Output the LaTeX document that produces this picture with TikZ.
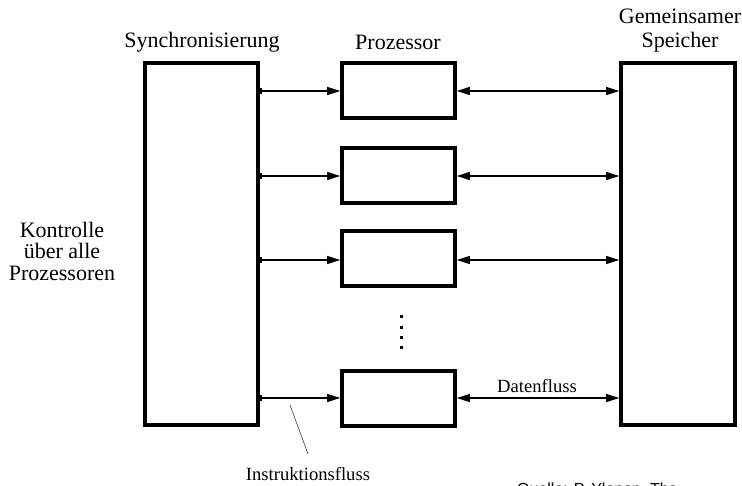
\documentclass[tikz,border=0pt]{standalone}
\usepackage{fontspec}
\setmainfont{Liberation Serif}
\newfontfamily\quellefont{Liberation Sans}
\usetikzlibrary{arrows.meta}
\begin{document}
\begin{tikzpicture}[x=1pt,y=-1pt,
  bigbox/.style={draw,line width=3.6pt,inner sep=0pt},
  flow/.style={line width=1.1pt,-{Triangle[length=13pt,width=8pt]}},
  dflow/.style={line width=1.1pt,{Triangle[length=13pt,width=8pt]}-{Triangle[length=13pt,width=8pt]}},
  lbl/.style={font=\fontsize{22}{24}\selectfont,inner sep=0pt,align=center},
  slbl/.style={font=\fontsize{18.6}{20}\selectfont,inner sep=0pt},
  dotmark/.style={fill,inner sep=0pt,minimum size=3pt}]
\useasboundingbox (0,0) rectangle (742,485);
% main boxes
\node[bigbox,minimum width=113pt,minimum height=362pt] (sync) at (201.5,244) {};
\node[bigbox,minimum width=114pt,minimum height=362pt] (mem) at (678,244) {};
% processors
\node[bigbox,minimum width=113pt,minimum height=55pt] (p1) at (398.5,90.5) {};
\node[bigbox,minimum width=113pt,minimum height=55pt] (p2) at (398.5,175.5) {};
\node[bigbox,minimum width=113pt,minimum height=55pt] (p3) at (398.5,258.5) {};
\node[bigbox,minimum width=113pt,minimum height=55pt] (p4) at (398.5,398.5) {};
% dots
\node[dotmark] (d1) at (401,316) {};
\node[dotmark] (d2) at (401,327) {};
\node[dotmark] (d3) at (401,337) {};
\node[dotmark] (d4) at (401,347) {};
% instruction arrows
\foreach \p/\y in {p1/91,p2/176,p3/260,p4/398}{
  \draw[flow] (sync.east |- 0,\y) -- (\p.west |- 0,\y);
  \fill (sync.east |- 0,\y) ++(0,-3) rectangle ++(2.5,6);
}
% data arrows
\foreach \p/\y in {p1/91,p2/176,p3/260,p4/398}{
  \draw[dflow] (\p.east |- 0,\y) -- (mem.west |- 0,\y);
}
% labels
\node[lbl] (tsync) at (202,42) {Synchronisierung};
\node[lbl] (tproz) at (398,42) {Prozessor};
\node[lbl] (tmem) at (680,31) {Gemeinsamer\\Speicher};
\node[lbl,font=\fontsize{22}{21.5}\selectfont] (tkontr) at (62,251) {Kontrolle\\über alle\\Prozessoren};
\node[slbl] (tdaten) at (537,386) {Datenfluss};
\node[slbl] (tinstr) at (308,474) {Instruktionsfluss};
\coordinate (lstart) at (290,405);
\coordinate (lend) at (308,454);
\draw[line width=0.6pt,black!75] (lstart) -- (lend);
\node[anchor=base west,inner sep=0pt,font=\quellefont\fontsize{16}{16}\selectfont] (quelle) at (517,494) {Quelle: P. Ylonen, The};
\end{tikzpicture}
\end{document}
